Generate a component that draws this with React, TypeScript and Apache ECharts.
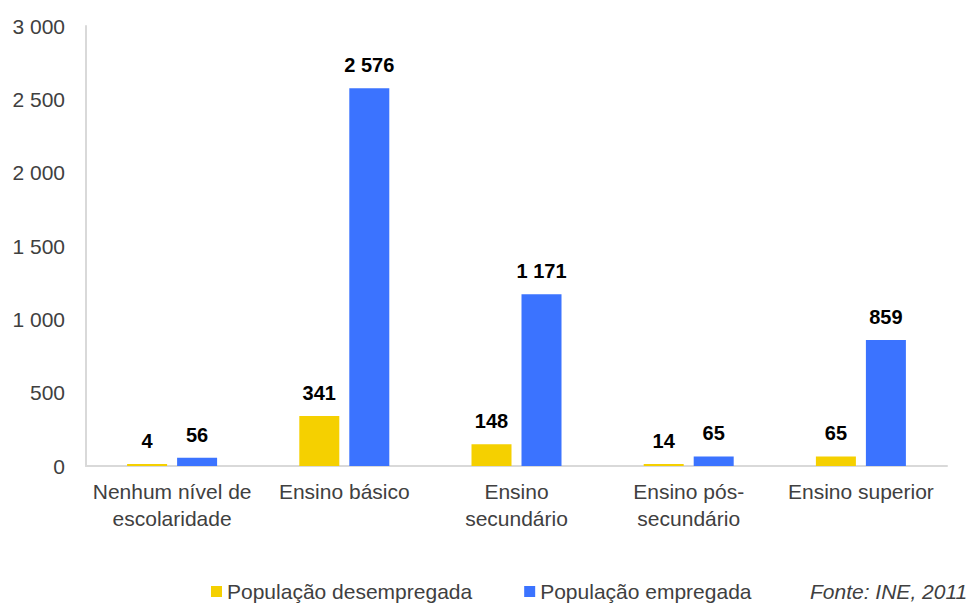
import React, { useEffect, useRef } from "react";
import * as echarts from "echarts";

const categories = [
  "Nenhum nível de\nescolaridade",
  "Ensino básico",
  "Ensino\nsecundário",
  "Ensino pós-\nsecundário",
  "Ensino superior",
];
const desempregada = [4, 341, 148, 14, 65];
const empregada = [56, 2576, 1171, 65, 859];
const seriesNames = ["População desempregada", "População empregada"];
const sourceText = "Fonte: INE, 2011";

const FONT = "'Liberation Sans', Arial, sans-serif";
const fmt = (v: number) => String(v).replace(/\B(?=(\d{3})+(?!\d))/g, " ");

export default function App() {
  const ref = useRef<HTMLDivElement>(null);
  useEffect(() => {
    if (!ref.current) return;
    const chart = echarts.init(ref.current, null, { renderer: "svg" });
    const label = {
      show: true,
      position: "top" as const,
      distance: 13,
      fontFamily: FONT,
      fontSize: 20,
      fontWeight: "bold" as const,
      color: "#000",
      formatter: (p: any) => fmt(p.value),
    };
    chart.setOption({
      animation: false,
      textStyle: { fontFamily: FONT },
      grid: { left: 86, right: 29, top: 26, bottom: 138, containLabel: false },
      legend: {
        left: 206,
        top: 576,
        itemWidth: 11,
        itemHeight: 11,
        itemGap: 52,
        icon: "rect",
        textStyle: { fontFamily: FONT, fontSize: 21, color: "#404040" },
        data: seriesNames,
      },
      xAxis: {
        type: "category",
        data: categories,
        axisLine: { show: true, lineStyle: { color: "#d9d9d9", width: 2 } },
        axisTick: { show: false },
        axisLabel: {
          interval: 0,
          fontFamily: FONT,
          fontSize: 21,
          color: "#404040",
          lineHeight: 27,
          margin: 12,
        },
      },
      yAxis: {
        type: "value",
        min: 0,
        max: 3000,
        interval: 500,
        axisLine: { show: true, lineStyle: { color: "#d9d9d9", width: 2 } },
        axisTick: { show: false },
        splitLine: { show: false },
        axisLabel: {
          fontFamily: FONT,
          fontSize: 21,
          color: "#404040",
          margin: 21,
          formatter: (v: number) => fmt(v),
        },
      },
      series: [
        {
          name: seriesNames[0],
          type: "bar",
          data: desempregada,
          barWidth: 40,
          barGap: "25%",
          barMinHeight: 2,
          itemStyle: { color: "#F5D000" },
          label,
        },
        {
          name: seriesNames[1],
          type: "bar",
          data: empregada,
          barWidth: 40,
          barGap: "25%",
          itemStyle: { color: "#3B73FF" },
          label,
        },
      ],
      graphic: [
        {
          type: "text",
          left: 810,
          top: 581,
          style: {
            text: sourceText,
            fontFamily: FONT,
            fontSize: 21,
            fontStyle: "italic",
            fill: "#404040",
          },
        },
      ],
    });
    return () => chart.dispose();
  }, []);
  return <div ref={ref} style={{ width: 976, height: 604, position: "absolute", left: 0, top: 0 }} />;
}
